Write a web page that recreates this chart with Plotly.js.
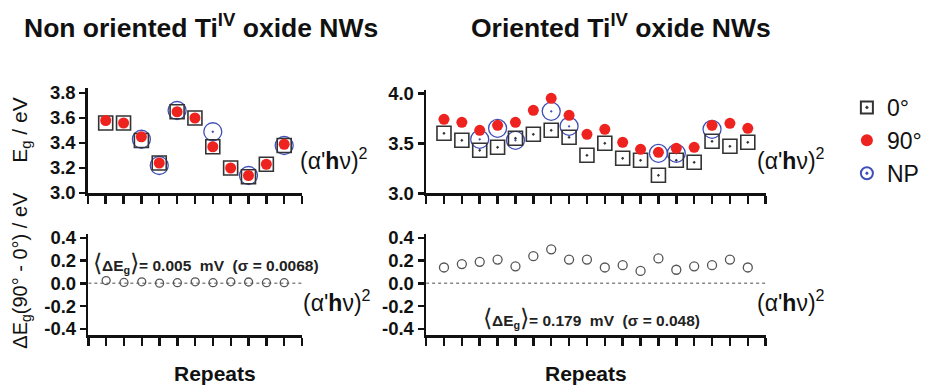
<!DOCTYPE html>
<html><head><meta charset="utf-8">
<script src="https://cdn.plot.ly/plotly-3.0.1.min.js"></script>
<style>html,body{margin:0;padding:0;background:#fff}#chart{width:927px;height:389px}</style>
</head><body><div id="chart"></div>
<script>
// ---------- data: non oriented NWs ----------
const repeatsNon = [1,2,3,4,5,6,7,8,9,10,11];
const eg0Non  = [3.56,3.56,3.42,3.24,3.65,3.60,3.37,3.20,3.13,3.23,3.38];
const eg90Non = [3.58,3.56,3.45,3.24,3.65,3.60,3.37,3.20,3.14,3.23,3.39];
const npRepNon = [3,4,5,7,9,11];
const npNon    = [3.43,3.22,3.66,3.49,3.14,3.38];
const dEgNon   = [0.025,0.008,0.014,0.002,0.006,0.014,0.006,0.014,0.012,0.006,0.006];

// ---------- data: oriented NWs ----------
const repeatsOr = [1,2,3,4,5,6,7,8,9,10,11,12,13,14,15,16,17,18];
const eg0Or  = [3.60,3.53,3.43,3.46,3.55,3.59,3.63,3.56,3.38,3.50,3.35,3.33,3.18,3.33,3.31,3.52,3.47,3.51];
const eg90Or = [3.74,3.71,3.63,3.68,3.71,3.83,3.95,3.78,3.59,3.64,3.51,3.44,3.41,3.45,3.46,3.68,3.70,3.65];
const npRepOr = [3,4,5,7,8,13,14,16];
const npOr    = [3.54,3.65,3.53,3.82,3.67,3.40,3.40,3.64];
const dEgOr   = [0.14,0.17,0.19,0.21,0.15,0.24,0.30,0.21,0.21,0.14,0.16,0.11,0.22,0.12,0.15,0.16,0.21,0.14];

// ---------- ticks / labels ----------
const xTicksNon = [0,1,2,3,4,5,6,7,8,9,10,11,12];
const xTicksOr  = [0,1,2,3,4,5,6,7,8,9,10,11,12,13,14,15,16,17,18,19];
const yTicksNon = [3.0,3.2,3.4,3.6,3.8];
const yLabelsNon = ['3.0','3.2','3.4','3.6','3.8'];
const yTicksOr = [3.0,3.5,4.0];
const yLabelsOr = ['3.0','3.5','4.0'];
const dTicks = [-0.4,-0.2,0,0.2,0.4];
const dLabels = ['-0.4','-0.2','0.0','0.2','0.4'];
const zeroNonX = [0,12], zeroOrX = [0,19], zeroY = [0,0];
const seriesNames = ['0°','90°','NP'];

// ---------- layout helpers ----------
const W = 927, H = 389;
const dx = (a,b) => [a/W, b/W];
const dy = (top,bottom) => [1-bottom/H, 1-top/H];
const FONT = 'Liberation Sans, Arial, Helvetica, sans-serif';
const sqStyle = {symbol:'square-open-dot', size:14, color:'#333', line:{width:1.6,color:'#333'}};
const redStyle = {symbol:'circle', size:11, color:'#ee2320'};
const npStyle = {symbol:'circle-open-dot', size:18, color:'#3f4fb8', line:{width:1.3,color:'#3f4fb8'}};

function base(xa, ya){ return {xaxis:xa, yaxis:ya, type:'scatter', hoverinfo:'skip'}; }

const traces = [
  Object.assign(base('x','y'), {x:npRepNon, y:npNon, mode:'markers', name:seriesNames[2], marker:npStyle, legendrank:3}),
  Object.assign(base('x','y'), {x:repeatsNon, y:eg0Non, mode:'markers', name:seriesNames[0], marker:sqStyle, legendrank:1}),
  Object.assign(base('x','y'), {x:repeatsNon, y:eg90Non, mode:'markers', name:seriesNames[1], marker:redStyle, legendrank:2}),
  Object.assign(base('x2','y2'), {x:npRepOr, y:npOr, mode:'markers', showlegend:false, marker:npStyle}),
  Object.assign(base('x2','y2'), {x:repeatsOr, y:eg0Or, mode:'markers', showlegend:false, marker:sqStyle}),
  Object.assign(base('x2','y2'), {x:repeatsOr, y:eg90Or, mode:'markers', showlegend:false, marker:redStyle}),
  Object.assign(base('x3','y3'), {x:zeroNonX, y:zeroY, mode:'lines', showlegend:false, line:{color:'#888', width:1.5, dash:'dot'}}),
  Object.assign(base('x3','y3'), {x:repeatsNon, y:dEgNon, mode:'markers', showlegend:false, marker:{symbol:'circle-open', size:8, color:'#555', line:{width:1.3}}}),
  Object.assign(base('x4','y4'), {x:zeroOrX, y:zeroY, mode:'lines', showlegend:false, line:{color:'#888', width:1.5, dash:'dot'}}),
  Object.assign(base('x4','y4'), {x:repeatsOr, y:dEgOr, mode:'markers', showlegend:false, marker:{symbol:'circle-open', size:9, color:'#555', line:{width:1.3}}})
];

function xAxis(dom, range, ticks, anchor){
  return {domain:dom, range:range, tickvals:ticks, showticklabels:false, ticks:'outside', ticklen:8, tickwidth:2.5,
    tickcolor:'#111', showline:true, linewidth:2.5, linecolor:'#111', showgrid:false, zeroline:false, anchor:anchor, fixedrange:true};
}
function yAxis(dom, range, ticks, labels, anchor){
  return {domain:dom, range:range, tickvals:ticks, ticktext:labels, ticks:'outside', ticklen:6, tickwidth:2.5,
    tickcolor:'#111', showline:true, linewidth:2.5, linecolor:'#111', showgrid:false, zeroline:false, anchor:anchor,
    tickfont:{family:FONT, size:18.5, weight:'bold', color:'#111'}, fixedrange:true};
}

const ann = (x, y, text, o) => Object.assign({xref:'paper', yref:'paper', x:x/W, y:1-y/H, text:text, showarrow:false,
  xanchor:'left', yanchor:'middle', font:{family:FONT, size:22, color:'#111'}}, o||{});
const NB = '\u00a0';
const alpha = "(α'<b>h</b>ν)<sup>2</sup>";
const lb = '<span style="font-size:24px;font-weight:normal">⟨</span>';
const rb = '<span style="font-size:24px;font-weight:normal">⟩</span>';

const layout = {
  width:W, height:H, margin:{l:0,r:0,t:0,b:0}, paper_bgcolor:'#fff', plot_bgcolor:'rgba(0,0,0,0)',
  showlegend:true,
  legend:{x:858/W, y:1-86/H, xanchor:'left', yanchor:'top', font:{family:FONT, size:23, color:'#111'},
    itemsizing:'constant', bgcolor:'rgba(0,0,0,0)', traceorder:'normal'},
  xaxis: xAxis(dx(89,306), [0,12], xTicksNon, 'y'),
  yaxis: yAxis(dy(88,193), [3.0,3.84], yTicksNon, yLabelsNon, 'x'),
  xaxis2: xAxis(dx(431.7,775.7), [0,19], xTicksOr, 'y2'),
  yaxis2: yAxis(dy(90,193.3), [3.0,4.033], yTicksOr, yLabelsOr, 'x2'),
  xaxis3: xAxis(dx(89.5,306), [0,12], xTicksNon, 'y3'),
  yaxis3: yAxis(dy(234,335), [-0.455,0.435], dTicks, dLabels, 'x3'),
  xaxis4: xAxis(dx(431.7,775.7), [0,19], xTicksOr, 'y4'),
  yaxis4: yAxis(dy(234,335), [-0.455,0.435], dTicks, dLabels, 'x4'),
  annotations: [
    ann(22, 26, 'Non oriented Ti<sup>IV</sup> oxide NWs', {font:{family:FONT, size:26.5, weight:'bold', color:'#111'}}),
    ann(475, 26, 'Oriented Ti<sup>IV</sup> oxide NWs', {font:{family:FONT, size:26.5, weight:'bold', color:'#111'}}),
    ann(21, 130, 'E<sub>g</sub> / eV', {textangle:-90, xanchor:'center', font:{family:FONT, size:21, color:'#111'}}),
    ann(21, 270, 'ΔE<sub>g</sub>(90° - 0°) / eV', {textangle:-90, xanchor:'center', font:{family:FONT, size:20, color:'#111'}}),
    ann(302, 159, alpha, {font:{family:FONT, size:23, color:'#111'}}),
    ann(765, 159, alpha, {font:{family:FONT, size:23, color:'#111'}}),
    ann(305, 301, alpha, {font:{family:FONT, size:23, color:'#111'}}),
    ann(765, 301, alpha, {font:{family:FONT, size:23, color:'#111'}}),
    ann(92, 262, lb+'ΔE<sub>g</sub>'+rb+'= 0.005'+NB+NB+'mV'+NB+NB+'(σ = 0.0068)', {font:{family:FONT, size:15.5, weight:'bold', color:'#222'}}),
    ann(487, 317, lb+'ΔE<sub>g</sub>'+rb+'= 0.179'+NB+NB+'mV'+NB+NB+'(σ = 0.048)', {font:{family:FONT, size:15.5, weight:'bold', color:'#222'}}),
    ann(218, 373, 'Repeats', {xanchor:'center', font:{family:FONT, size:21, weight:'bold', color:'#111'}}),
    ann(594, 373, 'Repeats', {xanchor:'center', font:{family:FONT, size:21, weight:'bold', color:'#111'}})
  ]
};

Plotly.newPlot('chart', traces, layout, {displayModeBar:false, staticPlot:true});
</script></body></html>
